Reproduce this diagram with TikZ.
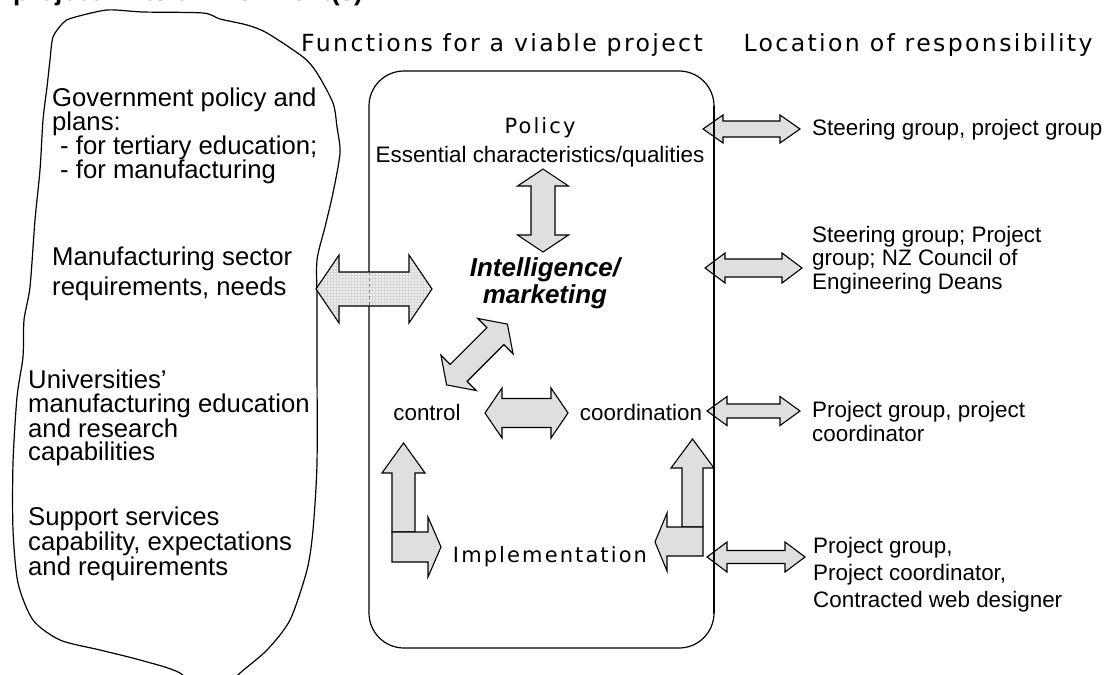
\documentclass[tikz,border=0pt]{standalone}
\usepackage{fontspec}
\setmainfont{Liberation Sans}
\newfontfamily\vfont[LetterSpace=10]{DejaVu Sans}
\usetikzlibrary{patterns}

% double block arrow: centre x, centre y, angle, half length, shaft half width, head half width, head length, style
\newcommand\DArr[8]{%
\begin{scope}[shift={(#1,#2)},rotate=#3]
\path[#8] (-#4,0) -- (-#4+#7,-#6) -- (-#4+#7,-#5) -- (#4-#7,-#5) -- (#4-#7,-#6) -- (#4,0)
  -- (#4-#7,#6) -- (#4-#7,#5) -- (-#4+#7,#5) -- (-#4+#7,#6) -- cycle;
\end{scope}}

\tikzset{
  blk/.style={draw=black, line width=1.1pt, fill=gray!25, line join=miter},
  bigarr/.style={draw=black, line width=1.1pt, preaction={fill=gray!14}, pattern=grid, pattern color=gray!32},
  boxs/.style={draw=black, line width=1.2pt},
  blobs/.style={draw=black, line width=1.2pt},
  txt/.style={inner sep=0pt, align=left, font=\fontsize{22.4}{23.5}\selectfont},
  ltxt/.style={inner sep=0pt, align=left, anchor=west},
  vtxt/.style={inner sep=0pt, font=\vfont\fontsize{21}{24}\selectfont},
  htxt/.style={inner sep=0pt, font=\vfont\fontsize{23.6}{24}\selectfont},
}

\begin{document}
\begin{tikzpicture}[x=1pt,y=-1pt]
\useasboundingbox (0,0) rectangle (1107,674);
\clip (0,0) rectangle (1107,674);

% cut-off caption line at the top
\node[anchor=base west, inner sep=0pt, font=\bfseries\fontsize{26}{26}\selectfont] (cap) at (13,0.8) {project in its environment(s)};

% environment blob
\draw[blobs] plot[smooth cycle, tension=0.45] coordinates {
 (107,10) (143,12) (203,13) (220,19) (247,25) (267,33) (303,57) (317,73) (333,103) (337,127)
 (340,153) (333,193) (325,227) (317,260) (317,300) (317,360) (317,463) (313,530) (307,570)
 (290,620) (267,650) (240,673) (210,700) (180,673) (140,660) (100,650) (60,640) (33,620)
 (18,583) (13,530) (13,463) (17,397) (23,357) (24,320) (30,287) (35,220) (40,170) (43,120)
 (47,87) (50,60) (53,37) (63,23) (72,18)};

% left texts
\node[ltxt, font=\fontsize{25.7}{24}\selectfont] (gov) at (52,136)
 {Government policy and\\plans:\\\hspace*{8pt}- for tertiary education;\\\hspace*{8pt}- for manufacturing};
\node[ltxt, font=\fontsize{25.7}{30}\selectfont] (manu) at (52,274)
 {Manufacturing sector\\requirements, needs};
\node[ltxt, font=\fontsize{25.7}{23.3}\selectfont] (univ) at (28,418)
 {Universities’\\manufacturing education\\and research\\capabilities};
\node[ltxt, font=\fontsize{25.7}{23}\selectfont] (supp) at (28,544)
 {Support services\\capability, expectations\\and requirements};

% headers
\node[htxt] (hfun) at (502,45) {Functions for a viable project};
\node[htxt] (hloc) at (918,45) {Location of responsibility};

% main box
\draw[boxs, rounded corners=35pt] (369,71) rectangle (714,648);

% big left arrow
\DArr{374}{289}{0}{58}{17}{34}{23}{bigarr}
\draw[gray, dashed, line width=0.8pt] (369,272) -- (369,306);

% texts in box
\node[vtxt] (pol) at (540,128) {Policy};
\node[txt] (ess) at (540,157) {Essential characteristics/qualities};
\node[inner sep=0pt, align=center, font=\bfseries\itshape\fontsize{26}{27}\selectfont] (intel) at (545,283) {Intelligence/\\marketing};
\node[txt] (ctrl) at (427,412) {control};
\node[txt] (coord) at (641,412) {coordination};
\node[vtxt] (impl) at (550,557) {Implementation};

% inner arrows
\DArr{543}{210.5}{90}{41.5}{12}{25.5}{17}{blk}
\DArr{477}{354.5}{45}{43}{12}{25}{17}{blk}
\DArr{526.5}{413}{0}{41.5}{14.5}{25}{17}{blk}

% lower-left L arrow
\path[blk] (392,532) -- (392,473) -- (382,473) -- (403.5,443) -- (425,473) -- (415,473) -- (415,532) -- cycle;
\path[blk] (392,532) -- (428,532) -- (428,517) -- (441,547) -- (428,577) -- (428,562) -- (392,562) -- cycle;

% lower-right L arrow
\path[blk] (682,527) -- (682,468) -- (671,468) -- (692.5,439) -- (714,468) -- (703,468) -- (703,527) -- cycle;
\path[blk] (703,527) -- (667,527) -- (667,513) -- (655,542) -- (667,571) -- (667,556) -- (703,556) -- cycle;

% right arrows
\DArr{751.5}{129}{0}{48.5}{8}{14}{20}{blk}
\DArr{753.5}{268}{0}{48.5}{9}{15}{20}{blk}
\DArr{753.5}{411}{0}{46.5}{7}{14.5}{20}{blk}
\DArr{756}{557}{0}{49}{6.5}{15}{20}{blk}
\draw[boxs] (714,106) -- (714,613);

% right texts
\node[ltxt, font=\fontsize{22.4}{23.5}\selectfont] (r1) at (812,130) {Steering group, project group};
\node[ltxt, font=\fontsize{22.4}{23.5}\selectfont] (r2) at (812,260) {Steering group; Project\\group; NZ Council of\\Engineering Deans};
\node[ltxt, font=\fontsize{22.4}{24}\selectfont] (r3) at (812,421) {Project group, project\\coordinator};
\node[ltxt, font=\fontsize{22.4}{27}\selectfont] (r4) at (813,575) {Project group,\\Project coordinator,\\Contracted web designer};
\end{tikzpicture}
\end{document}
